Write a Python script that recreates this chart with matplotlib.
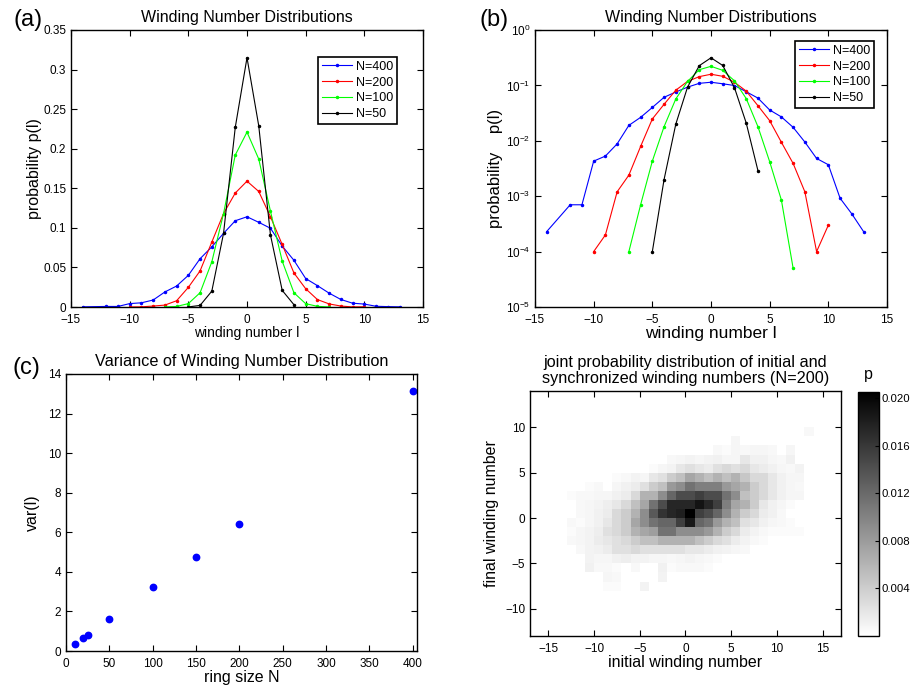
import matplotlib
matplotlib.use('Agg')
import matplotlib.pyplot as plt
import numpy as np
from matplotlib.ticker import FuncFormatter, NullLocator

plt.rcParams['font.family'] = ['Liberation Sans', 'DejaVu Sans']
plt.rcParams['mathtext.fontset'] = 'custom'
plt.rcParams['mathtext.rm'] = 'Liberation Sans'
plt.rcParams['mathtext.it'] = 'Liberation Sans:italic'
plt.rcParams['axes.linewidth'] = 1.0

# winding number distributions p(l) for several ring sizes
l_400 = [-14, -12, -11, -10, -9, -8, -7, -6, -5, -4, -3, -2, -1, 0,
         1, 2, 3, 4, 5, 6, 7, 8, 9, 10, 11, 12, 13]
p_400 = [2.3e-4, 7.0e-4, 7.0e-4, 4.3e-3, 5.3e-3, 8.8e-3, 0.019, 0.0265, 0.040,
         0.061, 0.076, 0.093, 0.109, 0.114, 0.107, 0.0995, 0.077, 0.059, 0.036,
         0.027, 0.0175, 0.0095, 0.0048, 0.0037, 9.2e-4, 4.8e-4, 2.3e-4]

l_200 = [-10, -9, -8, -7, -6, -5, -4, -3, -2, -1, 0, 1, 2, 3, 4, 5, 6, 7, 8, 9, 10]
p_200 = [1.0e-4, 2.0e-4, 1.2e-3, 2.4e-3, 7.9e-3, 0.0248, 0.0456, 0.082, 0.118,
         0.144, 0.159, 0.146, 0.114, 0.079, 0.043, 0.0231, 0.0094, 0.0039,
         1.2e-3, 1.0e-4, 3.0e-4]

l_100 = [-7, -6, -5, -4, -3, -2, -1, 0, 1, 2, 3, 4, 5, 6, 7]
p_100 = [1.0e-4, 7.0e-4, 4.3e-3, 0.018, 0.057, 0.118, 0.192, 0.221, 0.187,
         0.121, 0.058, 0.018, 4.2e-3, 8.5e-4, 5.0e-5]

l_50 = [-5, -4, -3, -2, -1, 0, 1, 2, 3, 4]
p_50 = [1.0e-4, 2.0e-3, 0.020, 0.093, 0.227, 0.315, 0.229, 0.091, 0.021, 2.9e-3]

series = [(l_400, p_400, 'N=400', 'b'),
          (l_200, p_200, 'N=200', 'r'),
          (l_100, p_100, 'N=100', '#00ff00'),
          (l_50, p_50, 'N=50', 'k')]

# variance vs ring size
ring_N = [10, 20, 25, 50, 100, 150, 200, 400]
var_l = [0.34, 0.64, 0.79, 1.64, 3.22, 4.74, 6.43, 13.15]

# joint distribution (values in 1e-3), rows: final winding 9 .. -8,
# columns: initial winding -13 .. 13
init_edges = np.arange(-13, 15)
final_edges = np.arange(-8, 11)
joint_p = [
    [0, 0, 0, 0, 0, 0, 0, 0, 0, 0, 0, 0, 0, 0, 0, 0, 0, 0, 0, 0, 0, 0, 0, 0, 0, 0, 0.6],
    [0, 0, 0, 0, 0, 0, 0, 0, 0, 0, 0, 0, 0, 0, 0, 0, 0, 0, 0.8, 0, 0, 0, 0, 0, 0, 0, 0],
    [0, 0, 0, 0, 0, 0, 0, 0, 0, 0, 0, 0, 0, 0, 0, 0, 0.6, 0.4, 0.8, 0.6, 0.8, 0.8, 0.6, 0, 0.8, 0, 0],
    [0, 0, 0, 0, 0, 0, 0, 0, 0, 0, 0, 0.6, 0.8, 1.0, 0.8, 1.0, 1.2, 0.8, 0.8, 2.0, 1.2, 1.2, 0.8, 0.6, 1.2, 0, 0],
    [0, 0, 0, 0, 0, 0, 0, 0, 0, 0.4, 0.8, 1.0, 2.0, 2.5, 2.0, 1.6, 2.5, 3.1, 2.5, 3.1, 2.0, 1.6, 1.2, 0.8, 0.6, 1.0, 0],
    [0, 0, 0, 0, 0, 0.4, 0.6, 1.0, 0.8, 2.0, 2.5, 4.1, 5.1, 7.2, 6.2, 5.1, 6.2, 5.1, 6.2, 4.5, 3.1, 3.1, 2.0, 1.2, 0.8, 0.8, 0],
    [0, 0, 0.4, 0.6, 0, 0.8, 1.2, 1.6, 2.5, 4.1, 5.1, 8.2, 9.2, 11.3, 10.3, 10.3, 10.3, 8.2, 7.2, 6.2, 4.1, 3.1, 2.0, 1.2, 0.8, 0.6, 0],
    [0.4, 0.6, 0.6, 0.8, 0.8, 1.2, 1.6, 3.1, 6.2, 6.2, 9.2, 12.3, 14.4, 14.4, 15.4, 14.4, 14.4, 11.3, 9.2, 5.1, 4.1, 3.1, 2.0, 1.2, 0.8, 0.8, 0],
    [0, 0.6, 0.8, 1.0, 1.4, 2.0, 3.1, 5.1, 7.2, 11.3, 14.4, 17.4, 17.4, 17.4, 18.9, 17.4, 15.4, 10.3, 7.2, 6.2, 4.1, 2.0, 1.2, 0.8, 0.4, 0, 0],
    [0, 0.6, 0.8, 1.2, 1.6, 3.1, 4.1, 6.2, 9.2, 13.3, 16.4, 17.4, 18.0, 20.5, 15.4, 14.4, 12.3, 9.2, 6.2, 4.1, 3.1, 1.6, 1.2, 0.6, 0, 0, 0],
    [0.6, 0.4, 0.8, 1.2, 2.0, 3.1, 4.1, 7.2, 9.2, 11.3, 12.3, 12.3, 15.4, 18.5, 12.3, 11.3, 8.2, 6.2, 5.1, 2.5, 2.0, 1.2, 0.8, 0.6, 0.4, 0, 0],
    [0.4, 0.8, 1.0, 1.4, 2.5, 3.1, 4.1, 6.2, 7.2, 7.8, 11.3, 11.3, 9.2, 9.2, 9.2, 8.2, 6.2, 4.1, 3.1, 1.6, 1.0, 0.6, 0.4, 0.4, 0.4, 0.4, 0],
    [0.6, 0.8, 1.0, 1.6, 2.0, 2.5, 3.1, 4.1, 5.1, 5.1, 6.2, 6.2, 6.2, 6.2, 5.1, 4.1, 3.1, 2.5, 1.6, 1.0, 0.6, 0.4, 0, 0, 0, 0, 0],
    [0, 0.6, 1.0, 1.2, 1.6, 2.5, 2.5, 3.1, 2.5, 2.5, 2.5, 2.5, 2.5, 2.0, 2.0, 1.6, 1.2, 1.0, 0.8, 0.6, 0, 0, 0, 0, 0, 0, 0],
    [0, 0, 1.0, 0.8, 0.8, 1.2, 1.4, 1.0, 1.0, 0.8, 0.8, 0.6, 0.8, 1.0, 0.8, 0.6, 0.4, 0, 0, 0, 0, 0, 0, 0, 0, 0, 0],
    [0, 0, 1.2, 0.6, 0.6, 0.4, 0, 0.6, 0, 0, 1.2, 0.4, 0.6, 0.6, 0.6, 0.4, 0, 0, 0, 0, 0, 0, 0, 0, 0, 0, 0],
    [0, 0, 0, 0, 0.8, 0.6, 0, 0, 0, 0, 1.0, 0, 0, 0, 0, 0, 0, 0, 0, 0, 0, 0, 0, 0, 0, 0, 0],
    [0, 0, 0, 0, 0.4, 0.4, 0, 0, 1.0, 0, 0, 0, 0, 0, 0, 0, 0, 0, 0, 0, 0, 0, 0, 0, 0, 0, 0],
]
cbar_ticks = [0.004, 0.008, 0.012, 0.016, 0.020]

W, H = 912, 689
fig = plt.figure(figsize=(W / 100, H / 100), dpi=100)


def px_axes(l, t, r, b):
    return fig.add_axes([l / W, 1 - b / H, (r - l) / W, (b - t) / H])


def num(v, pos):
    return ('%g' % v).replace('-', '\u2212')


def matlab_ticks(ax):
    ax.tick_params(direction='in', top=True, right=True, length=4,
                   width=0.8, labelsize=8.5)
    ax.tick_params(axis='x', pad=5)


ax_a = px_axes(71, 30, 423, 307)
ax_b = px_axes(535, 30, 887, 307)
ax_c = px_axes(66, 374, 417, 651)
ax_d = px_axes(530, 391, 841, 636)
cax = px_axes(858, 392, 879, 636)

# (a) linear
for l, p, lab, c in series:
    ax_a.plot(l, p, color=c, lw=0.8, marker='.', ms=3, label=lab)
ax_a.set_xlim(-15, 15)
ax_a.set_ylim(0, 0.35)
ax_a.set_xticks(np.arange(-15, 16, 5))
ax_a.set_yticks(np.arange(0, 0.36, 0.05))
ax_a.xaxis.set_major_formatter(FuncFormatter(num))
ax_a.yaxis.set_major_formatter(FuncFormatter(num))
matlab_ticks(ax_a)
ax_a.set_title('Winding Number Distributions', fontsize=11.5, pad=6)
ax_a.set_xlabel('winding number l', fontsize=10, labelpad=0)
ax_a.set_ylabel('probability p(l)', fontsize=11.5, labelpad=1)
leg = ax_a.legend(loc='upper right', bbox_to_anchor=(0.926, 0.9025),
                  borderaxespad=0, fancybox=False, framealpha=1,
                  edgecolor='k', fontsize=9, handlelength=2.4,
                  labelspacing=0.3, handletextpad=0.3, borderpad=0.3)
leg.get_frame().set_linewidth(1.2)

# (b) log
for l, p, lab, c in series:
    ax_b.plot(l, p, color=c, lw=0.8, marker='.', ms=3, label=lab)
ax_b.set_yscale('log')
ax_b.set_xlim(-15, 15)
ax_b.set_ylim(1e-5, 1)
ax_b.set_xticks(np.arange(-15, 16, 5))
ax_b.xaxis.set_major_formatter(FuncFormatter(num))
ax_b.yaxis.set_minor_locator(NullLocator())
matlab_ticks(ax_b)
ax_b.set_title('Winding Number Distributions', fontsize=11.5, pad=6)
ax_b.set_xlabel('winding number l', fontsize=12.5, labelpad=0)
ax_b.set_ylabel('probability    p(l)', fontsize=12, labelpad=2)
leg = ax_b.legend(loc='upper right', bbox_to_anchor=(0.963, 0.96),
                  borderaxespad=0, fancybox=False, framealpha=1,
                  edgecolor='k', fontsize=9, handlelength=2.4,
                  labelspacing=0.3, handletextpad=0.3, borderpad=0.3)
leg.get_frame().set_linewidth(1.2)

# (c) variance
ax_c.plot(ring_N, var_l, 'o', color='b', ms=4.6, mec='b')
ax_c.set_xlim(0, 405)
ax_c.set_ylim(0, 14)
ax_c.set_xticks(np.arange(0, 401, 50))
ax_c.set_yticks(np.arange(0, 15, 2))
matlab_ticks(ax_c)
ax_c.set_title('Variance of Winding Number Distribution', fontsize=11.7, pad=6)
ax_c.set_xlabel('ring size N', fontsize=11.5, labelpad=0)
ax_c.set_ylabel('var(l)', fontsize=11.5, labelpad=6)

# (d) joint distribution
Z = np.array(joint_p)[::-1] * 1e-3
mesh = ax_d.pcolormesh(init_edges, final_edges, Z, cmap='gray_r',
                       vmin=0, vmax=0.0205, shading='flat')
ax_d.set_xlim(-17, 17)
ax_d.set_ylim(-13, 14)
ax_d.set_xticks(np.arange(-15, 16, 5))
ax_d.set_yticks(np.arange(-10, 11, 5))
ax_d.xaxis.set_major_formatter(FuncFormatter(num))
ax_d.yaxis.set_major_formatter(FuncFormatter(num))
matlab_ticks(ax_d)
ax_d.set_title('joint probability distribution of initial and\n'
               'synchronized winding numbers (N=200)', fontsize=11.7,
               pad=6, linespacing=1.05)
ax_d.set_xlabel('initial winding number', fontsize=11.5, labelpad=0)
ax_d.set_ylabel('final winding number', fontsize=11.5, labelpad=4)

cb = fig.colorbar(mesh, cax=cax, ticks=cbar_ticks)
cb.ax.yaxis.set_major_formatter(FuncFormatter(lambda v, pos: '%.3f' % v))
cb.ax.tick_params(direction='in', length=3, width=0.8, labelsize=8.2, pad=2)
cb.outline.set_linewidth(1.0)
cb.ax.set_title('p', fontsize=11.5, pad=9)

# panel letters
fig.text(28 / W, 1 - 20 / H, '(a)', fontsize=17, ha='center', va='center')
fig.text(494 / W, 1 - 20 / H, '(b)', fontsize=17, ha='center', va='center')
fig.text(26 / W, 1 - 368 / H, '(c)', fontsize=17, ha='center', va='center')

fig.savefig('out.png', dpi=100)
